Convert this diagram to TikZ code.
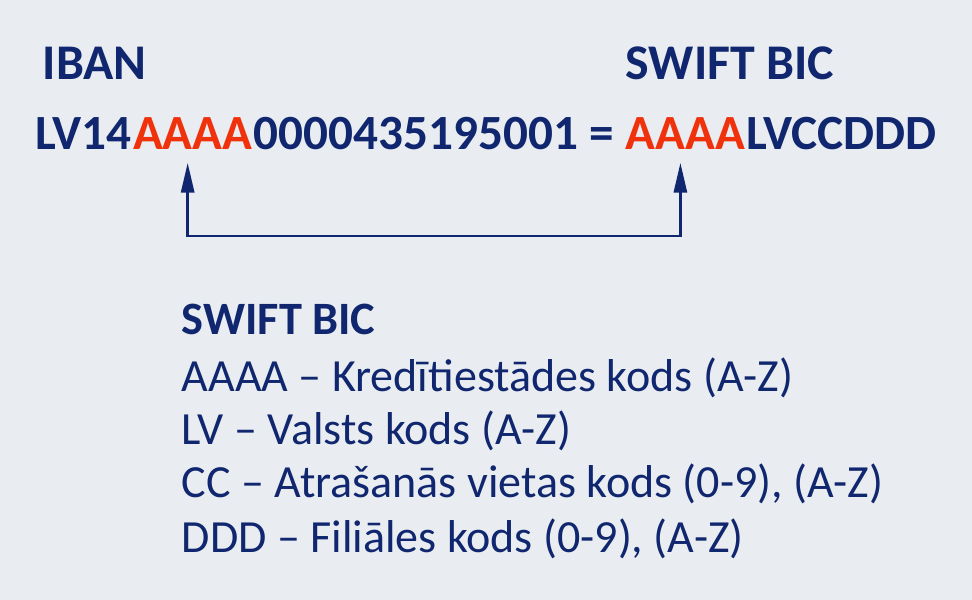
\documentclass[tikz,border=0pt]{standalone}
\usepackage{fontspec}
\setmainfont{Carlito}
\usepackage{tikz}
\usetikzlibrary{arrows.meta,positioning,calc}
\definecolor{navy}{RGB}{16,38,110}
\definecolor{flame}{RGB}{240,50,12}
\definecolor{mist}{RGB}{233,237,241}
\tikzset{
  >={Triangle[length=3mm,width=1.3mm]},
  head/.style={font=\fontsize{#1}{16}\selectfont\bfseries,text=navy,inner sep=0pt,anchor=base west},
  head/.default=14.2,
  code/.style={font=\fontsize{14}{16}\selectfont\bfseries,text=#1,inner sep=0pt,anchor=base west},
  code/.default=navy,
  item/.style={font=\fontsize{13.1}{15}\selectfont,text=navy,inner sep=0pt,anchor=base west},
  link/.style={<->,draw=navy,line width=0.85pt,shorten <=1.2mm,shorten >=1.2mm},
}

\begin{document}
\begin{tikzpicture}
  \fill[mist] (0,0) rectangle (9.72,6.00);
  \useasboundingbox (0,0) rectangle (9.72,6.00);
  % headings
  \node[head] (iban) at (0.42,5.20) {IBAN};
  \node[head] (bic) at (6.25,5.20) {SWIFT BIC};
  % the code line
  \node[code] (ibanL) at (0.35,4.50) {LV14};
  \node[code=flame] (ibanA) at (ibanL.base east) {AAAA};
  \node[code] (ibanR) at (ibanA.base east) {0000435195001 =\rule{0.22em}{0pt}};
  \node[code=flame] (bicA) at (ibanR.base east) {AAAA};
  \node[code] (bicR) at (bicA.base east) {LVCCDDD};
  % connector
  \coordinate (bend) at (0,3.64);
  \draw[link] ([xshift=-0.5mm]ibanA.south) -- ([xshift=-0.5mm]ibanA.south |- bend)
    -| ([xshift=-0.5mm]bicA.south);
  % legend
  \node[head=13.2] (legend) at (1.81,2.65) {SWIFT BIC};
  \foreach \t/\y [count=\i] in {
      AAAA – Kredītiestādes kods (A-Z)/2.08,
      LV – Valsts kods (A-Z)/1.55,
      CC – Atrašanās vietas kods (0-9){,} (A-Z)/1.02,
      DDD – Filiāles kods (0-9){,} (A-Z)/0.47}
    \node[item] (line\i) at (1.81,\y) {\t};
\end{tikzpicture}
\end{document}
